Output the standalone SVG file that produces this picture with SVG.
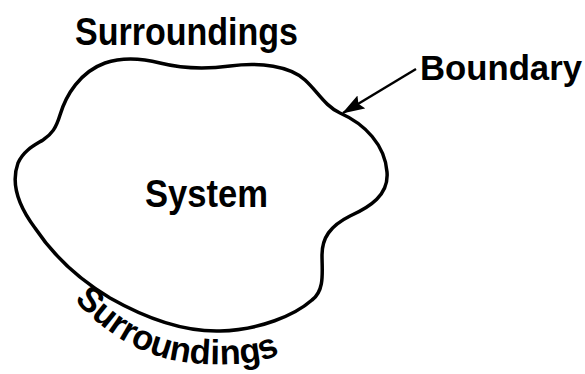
<svg xmlns="http://www.w3.org/2000/svg" width="585" height="374" viewBox="0 0 585 374">
<style>
.lbl{font-family:"Liberation Sans",Arial,sans-serif;font-weight:bold;fill:#000}
.blob{fill:none;stroke:#000;stroke-width:3.5;stroke-linejoin:round}
.conn{fill:none;stroke:#000;stroke-width:2.5}
</style>
<defs>
<marker id="arr" viewBox="0 0 10 10" preserveAspectRatio="none" refX="9.5" refY="5" markerWidth="9" markerHeight="6" markerUnits="strokeWidth" orient="auto">
<path d="M0,0 L10,5 L0,10 L1.5,5 Z" fill="#000"/>
</marker>
<path id="bottomPath" d="M 74,300 C 110,338 150,362 205,364 S 274,358 294,346"/>
</defs>
<rect width="585" height="374" fill="#fff"/>
<g id="system">
<path class="blob" d="M 43,140 C 52,134 56,128 60,115 C 66,95 80,72 105,63 C 120,58 140,58 160,63 C 180,68 200,70 230,66 C 260,62 290,66 305,80 C 318,92 325,106 340,113 C 365,124 385,145 387,172 C 389,195 370,207 350,216 C 330,226 322,238 322,255 C 322,272 325,290 312,300 C 295,315 260,330 220,331 C 180,332 140,315 110,298 C 80,280 55,258 35,228 C 20,208 10,185 18,163 C 24,150 35,145 43,140 Z"/>
<text class="lbl" x="145" y="207" font-size="38" textLength="123" lengthAdjust="spacingAndGlyphs">System</text>
</g>
<g id="surroundings-top">
<text class="lbl" x="75" y="45" font-size="38" textLength="223" lengthAdjust="spacingAndGlyphs">Surroundings</text>
</g>
<g id="surroundings-bottom">
<text class="lbl" font-size="35"><textPath href="#bottomPath" textLength="226" lengthAdjust="spacingAndGlyphs">Surroundings</textPath></text>
</g>
<g id="boundary">
<text class="lbl" x="420" y="80" font-size="35" textLength="162" lengthAdjust="spacingAndGlyphs">Boundary</text>
</g>
<g id="connectors">
<line class="conn" x1="416" y1="69" x2="343" y2="113" marker-end="url(#arr)"/>
</g>
</svg>
